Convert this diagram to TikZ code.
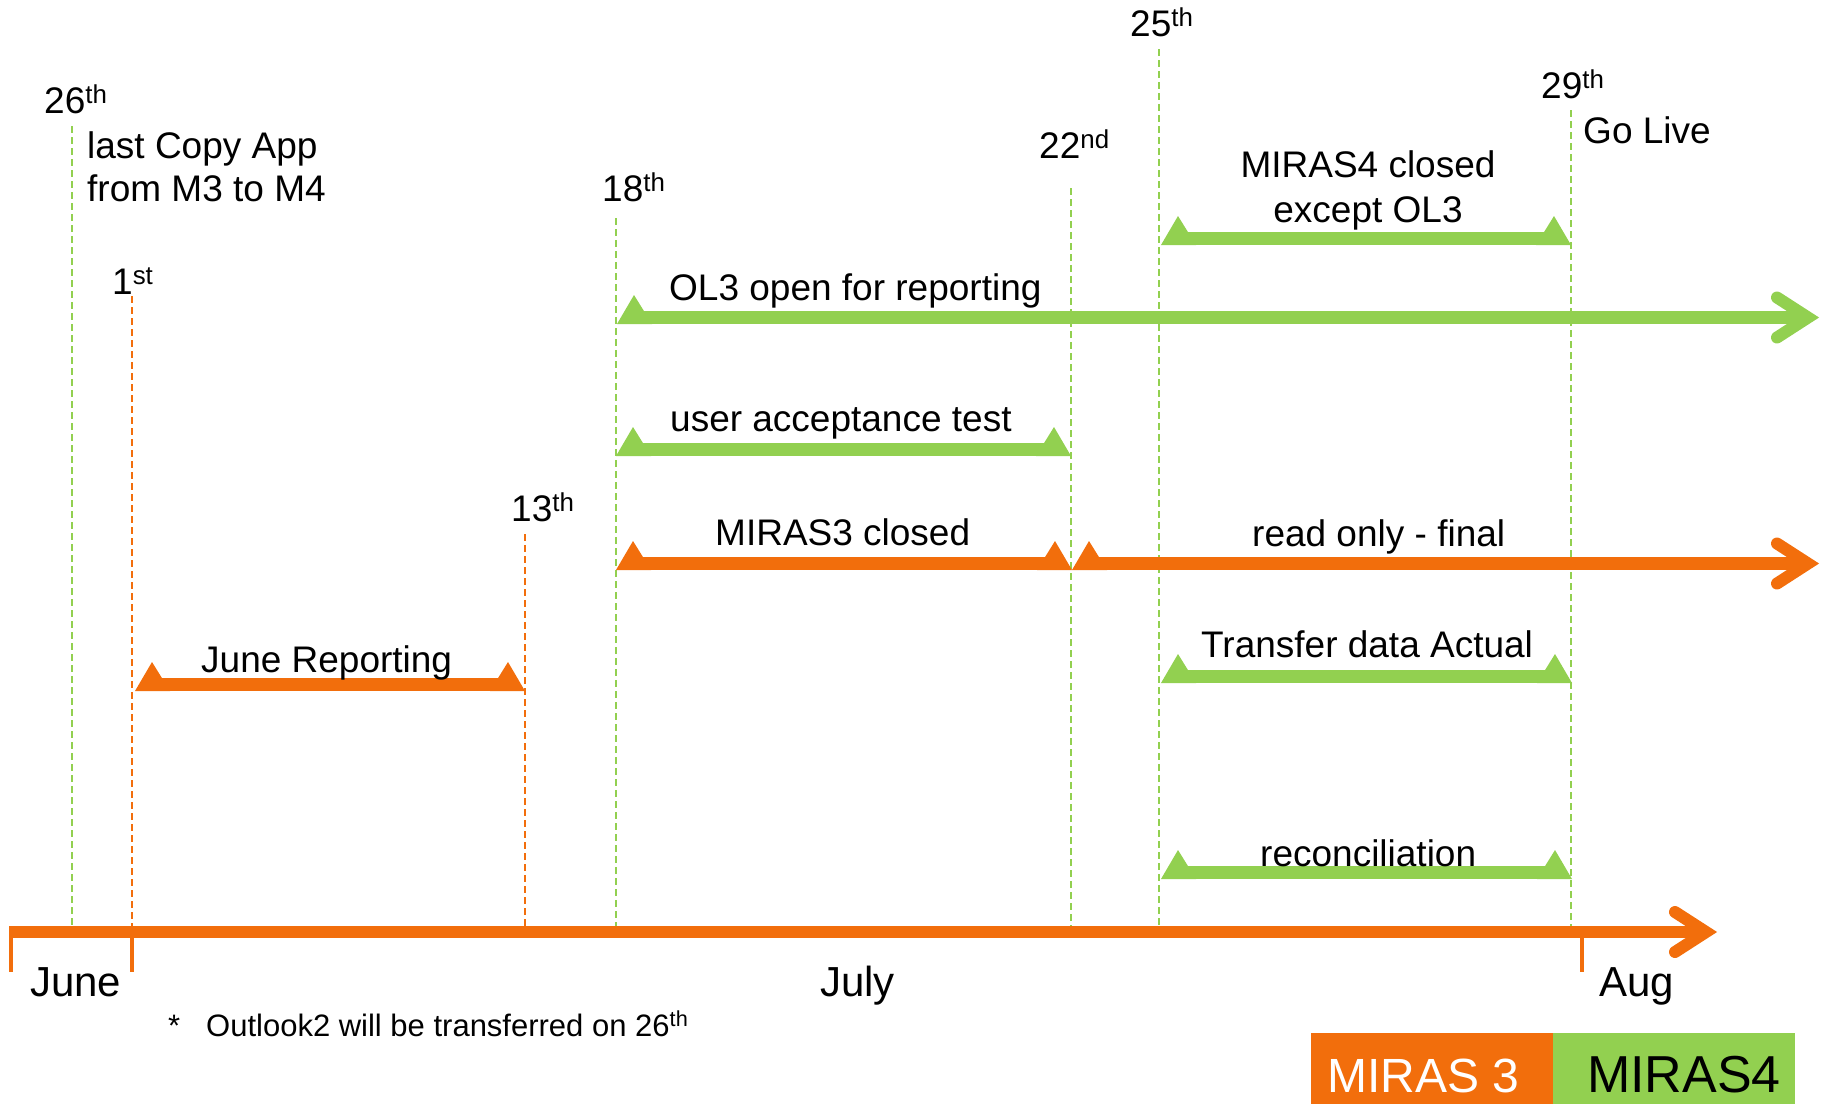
\documentclass[tikz,border=0pt]{standalone}
\usepackage{fontspec}
\setmainfont{Liberation Sans}
\usepackage{tikz}
\usetikzlibrary{positioning}
\definecolor{mirasorange}{RGB}{242,110,12}
\definecolor{mirasgreen}{RGB}{146,208,80}
\tikzset{lbl/.style={anchor=base west,inner sep=0pt,font=\fontsize{37}{40}\selectfont},
         month/.style={anchor=base west,inner sep=0pt,font=\fontsize{42}{46}\selectfont},
         note/.style={anchor=base west,inner sep=0pt,font=\fontsize{31}{34}\selectfont},
         dateline/.style={dash pattern=on 7pt off 4pt,line width=2pt},
         chevron/.style={line width=12pt,line cap=round,line join=miter},}
\tikzstyle{legend} = [minimum width=242pt,minimum height=71pt,inner sep=0pt]
\tikzstyle{legend text} = [anchor=base west,inner sep=0pt]
% bar with half triangles at both ends: colour, left x, right x, bottom y
\newcommand{\phasebar}[4]{%
  \fill[#1] (#2,#4) -- ++(17,-29) -- ++(18,29) -- cycle;
  \fill[#1] (#3,#4) -- ++(-17,-29) -- ++(-18,29) -- cycle;
  \fill[#1] (#2+17,#4) rectangle (#3-17,#4-13);}
% bar running out to the right edge: colour, left x, bottom y
\newcommand{\phasearrow}[3]{%
  \fill[#1] (#2,#3) -- ++(17,-29) -- ++(18,29) -- cycle;
  \fill[#1] (#2+17,#3) rectangle (1808,#3-13);
  \draw[chevron,#1] (1777,#3-26.5) -- (1808,#3-6.5) -- (1777,#3+13.5);}

\begin{document}
\begin{tikzpicture}[x=1pt,y=-1pt]
    \useasboundingbox (0,0) rectangle (1821,1104);
    % date marks
    \coordinate (axis) at (0,926);
    \coordinate (d26) at (72,126);
    \coordinate (d1)  at (132,296);
    \coordinate (d13) at (525,534);
    \coordinate (d18) at (616,218);
    \coordinate (d22) at (1071,188);
    \coordinate (d25) at (1159,49);
    \coordinate (d29) at (1571,110);
    \foreach \d in {d26,d18,d22,d25,d29}
        \draw[dateline,mirasgreen] (\d) -- (\d |- axis);
    \foreach \d in {d1,d13}
        \draw[dateline,mirasorange] (\d) -- (\d |- axis);

    % phases
    \phasebar{mirasgreen}{1161}{1571}{245}
    \phasearrow{mirasgreen}{617}{324}
    \phasebar{mirasgreen}{616}{1071}{456}
    \phasebar{mirasorange}{616}{1072}{570}
    \phasearrow{mirasorange}{1072}{570}
    \phasebar{mirasgreen}{1161}{1572}{683}
    \phasebar{mirasorange}{135}{525}{691}
    \phasebar{mirasgreen}{1161}{1572}{879}

    % time axis
    \fill[mirasorange] (9,926) rectangle (1706,938);
    \draw[chevron,mirasorange] (1675,912) -- (1706,932) -- (1675,952);
    \foreach \x in {11,132,1582}
        \draw[mirasorange,line width=4pt] (\x,932) -- (\x,972);

    \node[lbl] (t26) at (44,113) {26\textsuperscript{th}};
    \node[lbl] (copy) at (87,158) {last Copy App};
    \node[lbl] (copy2) at (87,201) {from M3 to M4};
    \node[lbl] (t1) at (112,294) {1\textsuperscript{st}};
    \node[lbl] (t18) at (602,201) {18\textsuperscript{th}};
    \node[lbl] (t13) at (511,521) {13\textsuperscript{th}};
    \node[lbl] (t22) at (1039,158) {22\textsuperscript{nd}};
    \node[lbl] (t25) at (1130,36) {25\textsuperscript{th}};
    \node[lbl] (t29) at (1541,98) {29\textsuperscript{th}};
    \node[lbl] (golive) at (1583,143) {Go Live};
    \node[lbl,anchor=base] (m4closed) at (1368,177) {MIRAS4 closed};
    \node[lbl,anchor=base] (m4except) at (1368,222) {except OL3};
    \node[lbl] (ol3) at (669,300) {OL3 open for reporting};
    \node[lbl] (uat) at (670,431) {user acceptance test};
    \node[lbl] (m3closed) at (715,545) {MIRAS3 closed};
    \node[lbl] (readonly) at (1252,546) {read only - final};
    \node[lbl] (transfer) at (1201,657) {Transfer data Actual};
    \node[lbl] (junerep) at (201,672) {June Reporting};
    \node[lbl] (recon) at (1260,866) {reconciliation};
    \node[month] (june) at (30,996) {June};
    \node[month] (july) at (820,996) {July};
    \node[month] (aug) at (1599,996) {Aug};
    \node[note] (star) at (168,1036) {*};
    \node[note] (outlook) at (206,1036) {Outlook2 will be transferred on 26\textsuperscript{th}};

    % legend
    \node[legend,fill=mirasorange] (leg3) at (1432,1068.5) {};
    \node[legend,fill=mirasgreen,right=0pt of leg3] (leg4) {};
    \node[legend text,text=white,font=\fontsize{48}{50}\selectfont] (leg3txt) at (1327,1092) {MIRAS 3};
    \node[legend text,font=\fontsize{52}{54}\selectfont] (leg4txt) at (1587,1092) {MIRAS4};
\end{tikzpicture}
\end{document}
